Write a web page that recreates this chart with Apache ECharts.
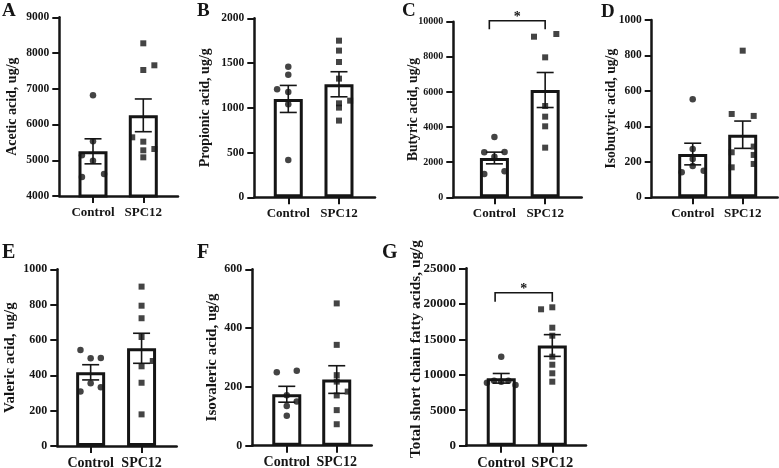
<!DOCTYPE html>
<html><head><meta charset="utf-8">
<script src="https://cdn.jsdelivr.net/npm/echarts@6/dist/echarts.min.js"></script>
<style>html,body{margin:0;padding:0;background:#fff}#c{width:779px;height:468px}</style>
</head><body><div id="c"></div>
<script>
const categories = ['Control', 'SPC12'];

// A – Acetic acid
const aceticControl = [6817, 5530, 5138, 4989, 4532, 4616];
const aceticSPC12   = [8272, 7526, 7657, 5642, 5520, 5278, 5315, 5082];
const aceticMean = [5250, 6257];
const aceticSEM  = [350, 458];
const aceticTicks = [4000, 9000, 1000];

// B – Propionic acid
const propionicControl = [1460, 1370, 1207, 1177, 1039, 417];
const propionicSPC12   = [1750, 1639, 1512, 1326, 1080, 1050, 1002, 857];
const propionicMean = [1099, 1263];
const propionicSEM  = [151, 140];
const propionicTicks = [0, 2000, 500];

// C – Butyric acid
const butyricControl = [3435, 2562, 2580, 2315, 1328, 1480];
const butyricSPC12   = [9146, 9298, 7970, 5199, 4592, 4042, 2827];
const butyricMean = [2239, 6110];
const butyricSEM  = [333, 997];
const butyricTicks = [0, 10000, 2000];
const butyricSig = [10057, 9567];

// D – Isobutyric acid
const isobutyricControl = [553, 272, 216, 176, 141, 150];
const isobutyricSPC12   = [827, 470, 459, 286, 254, 239, 188, 169];
const isobutyricMean = [244, 353];
const isobutyricSEM  = [61, 77];
const isobutyricTicks = [0, 1000, 200];

// E – Valeric acid
const valericControl = [543, 496, 498, 355, 308, 332];
const valericSPC12   = [902, 794, 723, 617, 481, 451, 358, 179];
const valericMean = [417, 553];
const valericSEM  = [43, 85];
const valericTicks = [0, 1000, 200];

// F – Isovaleric acid
const isovalericControl = [250, 255, 172, 150, 135, 102];
const isovalericSPC12   = [484, 343, 240, 218, 184, 171, 121, 73];
const isovalericMean = [175, 225];
const isovalericSEM  = [27, 47];
const isovalericTicks = [0, 600, 200];

// G – Total SCFA
const totalControl = [12542, 8878, 9160, 9019, 9160, 8554];
const totalSPC12   = [19222, 19504, 16629, 15501, 12542, 11415, 10203, 9019];
const totalMean = [9498, 14120];
const totalSEM  = [680, 1530];
const totalTicks = [0, 25000, 5000];
const totalSig = [21561, 20293];

// horizontal spread of individual points (fraction of category step)
const jA = [[0,0,-0.22,0,-0.22,0.22],[0,0,0.22,-0.22,0,0,0.22,0]];
const jB = [[0,0,-0.22,0,0,0],[0,0,0,0,0.22,0,0,0]];
const jC = [[0,-0.2,0.2,0,-0.2,0.2],[-0.22,0.22,0,0,0,0,0]];
const jD = [[0,0,0,0,-0.22,0.22],[0,-0.22,0.22,0.22,-0.22,0.22,0.22,-0.22]];
const jE = [[-0.2,0,0.2,0,-0.2,0.2],[0,0,0,0,0.22,0,0,0]];
const jF = [[-0.2,0.2,0,0.2,0,0],[0,0,0,0,0.22,0,0,0]];
const jG = [[0,-0.28,-0.14,0,0.14,0.28],[-0.22,0,0,0,0,0,0,0]];

const panels = [
  {letter:'A', name:'Acetic acid, ug/g', groups:[aceticControl, aceticSPC12], jit:jA, mean:aceticMean, sem:aceticSEM, ticks:aceticTicks, sig:null},
  {letter:'B', name:'Propionic acid, ug/g', groups:[propionicControl, propionicSPC12], jit:jB, mean:propionicMean, sem:propionicSEM, ticks:propionicTicks, sig:null},
  {letter:'C', name:'Butyric acid, ug/g', groups:[butyricControl, butyricSPC12], jit:jC, mean:butyricMean, sem:butyricSEM, ticks:butyricTicks, sig:butyricSig},
  {letter:'D', name:'Isobutyric acid, ug/g', groups:[isobutyricControl, isobutyricSPC12], jit:jD, mean:isobutyricMean, sem:isobutyricSEM, ticks:isobutyricTicks, sig:null},
  {letter:'E', name:'Valeric acid, ug/g', groups:[valericControl, valericSPC12], jit:jE, mean:valericMean, sem:valericSEM, ticks:valericTicks, sig:null},
  {letter:'F', name:'Isovaleric acid, ug/g', groups:[isovalericControl, isovalericSPC12], jit:jF, mean:isovalericMean, sem:isovalericSEM, ticks:isovalericTicks, sig:null},
  {letter:'G', name:'Total short chain fatty acids, ug/g', groups:[totalControl, totalSPC12], jit:jG, mean:totalMean, sem:totalSEM, ticks:totalTicks, sig:totalSig}
];

// layout (pixels) per panel
const layouts = [
  {left:59.3, top:17.3, width:118.7, height:178.7, xmin:-0.67, xmax:1.69, tick:11.5, cat:13, title:14, gap:40, lx:2, ly:2, lf:19, sigL:0, namePad:0},
  {left:254.3, top:18.3, width:120.7, height:179, xmin:-0.67, xmax:1.71, tick:11.5, cat:13, title:14, gap:42, lx:197, ly:2, lf:19, sigL:0, namePad:0},
  {left:453.3, top:21.7, width:128.4, height:175.6, xmin:-0.81, xmax:1.72, tick:10, cat:13, title:13.6, gap:33, lx:402, ly:2, lf:19, sigL:-0.1, namePad:0},
  {left:651.7, top:20, width:126, height:177.3, xmin:-0.82, xmax:1.70, tick:11.5, cat:13, title:13.7, gap:33, lx:601, ly:3, lf:19, sigL:0, namePad:0},
  {left:57.3, top:269.3, width:119.4, height:176.7, xmin:-0.655, xmax:1.69, tick:12, cat:14, title:15, gap:40, lx:2, ly:243, lf:20, sigL:0, namePad:0},
  {left:252.3, top:269.3, width:119.4, height:176.4, xmin:-0.69, xmax:1.70, tick:12, cat:14, title:15, gap:33, lx:197, ly:243, lf:20, sigL:0, namePad:0},
  {left:466, top:268.3, width:120, height:177.4, xmin:-0.69, xmax:1.66, tick:13, cat:14.5, title:15.3, gap:42, lx:382, ly:243, lf:20, sigL:-0.12, namePad:16}
];

const FONT = 'Liberation Serif';
const INK = '#151515';

const grid = [], xAxis = [], yAxis = [], series = [], graphic = [];

panels.forEach((p, i) => {
  const L = layouts[i];
  grid.push({left:L.left, top:L.top, width:L.width, height:L.height, outerBoundsMode:'none', containLabel:false});
  xAxis.push({
    type:'value', gridIndex:i, min:L.xmin, max:L.xmax,
    axisLine:{show:true, onZero:false, lineStyle:{color:INK, width:2.5}},
    splitLine:{show:false},
    axisTick:{show:true, customValues:[0,1], length:7, lineStyle:{color:INK, width:2}},
    axisLabel:{show:true, customValues:[0,1], formatter:v => categories[Math.round(v)], margin:10,
      fontFamily:FONT, fontWeight:'bold', fontSize:L.cat, color:INK}
  });
  yAxis.push({
    type:'value', gridIndex:i, min:p.ticks[0], max:p.ticks[1], interval:p.ticks[2],
    axisLine:{show:true, onZero:false, lineStyle:{color:INK, width:2.5}},
    splitLine:{show:false},
    axisTick:{show:true, length:7, lineStyle:{color:INK, width:2}},
    axisLabel:{margin:10, formatter:v => String(v), fontFamily:FONT, fontWeight:'bold', fontSize:L.tick, color:INK},
    name:p.name, nameLocation:'middle', nameRotate:90, nameGap:L.gap, nameMoveOverlap:false,
    nameTextStyle:{fontFamily:FONT, fontWeight:'bold', fontSize:L.title, color:INK, padding:[0,0,0,L.namePad]}
  });
  // bars
  series.push({
    type:'bar', xAxisIndex:i, yAxisIndex:i, barWidth:29, z:2,
    data:categories.map((c, k) => [k, p.mean[k]]),
    itemStyle:{color:'#fff', borderColor:INK, borderWidth:3},
    silent:true, animation:false
  });
  // error bars (mean ± SEM)
  series.push({
    type:'custom', xAxisIndex:i, yAxisIndex:i, z:3, animation:false, silent:true,
    data:categories.map((c, k) => [k, p.mean[k], p.sem[k]]),
    renderItem:(params, api) => {
      const x = api.value(0), m = api.value(1), s = api.value(2);
      const t = api.coord([x, m + s]), b = api.coord([x, m - s]);
      const cap = 8.5, st = {stroke:INK, lineWidth:1.6};
      return {type:'group', children:[
        {type:'line', shape:{x1:t[0], y1:t[1], x2:b[0], y2:b[1]}, style:st},
        {type:'line', shape:{x1:t[0]-cap, y1:t[1], x2:t[0]+cap, y2:t[1]}, style:st},
        {type:'line', shape:{x1:b[0]-cap, y1:b[1], x2:b[0]+cap, y2:b[1]}, style:st}
      ]};
    }
  });
  // individual points
  p.groups.forEach((vals, k) => {
    series.push({
      type:'scatter', xAxisIndex:i, yAxisIndex:i, z:4, animation:false, silent:true,
      symbol: k === 0 ? 'circle' : 'rect', symbolSize: k === 0 ? 6.5 : 6,
      itemStyle:{color:INK},
      data: vals.map((v, j) => [k + p.jit[k][j], v])
    });
  });
  // significance bracket
  if (p.sig) {
    series.push({
      type:'custom', xAxisIndex:i, yAxisIndex:i, z:5, animation:false, silent:true, clip:false,
      data:[[L.sigL, 1, p.sig[0], p.sig[1]]],
      renderItem:(params, api) => {
        const a = api.coord([api.value(0), api.value(2)]);
        const b = api.coord([api.value(1), api.value(2)]);
        const al = api.coord([api.value(0), api.value(3)]);
        const bl = api.coord([api.value(1), api.value(3)]);
        return {type:'group', children:[
          {type:'polyline', shape:{points:[[al[0], al[1]], [a[0], a[1]], [b[0], b[1]], [bl[0], bl[1]]]},
           style:{stroke:INK, lineWidth:1.6, fill:null}},
          {type:'text', x:(a[0]+b[0])/2, y:a[1]-3,
           style:{text:'*', fill:INK, font:'bold 14px "' + FONT + '"', align:'center', verticalAlign:'middle'}}
        ]};
      }
    });
  }
  graphic.push({
    type:'text', left:L.lx, top:L.ly,
    style:{text:p.letter, fill:INK, font:'bold ' + L.lf + 'px "' + FONT + '"'}
  });
});

const chart = echarts.init(document.getElementById('c'), null, {renderer:'canvas', width:779, height:468});
chart.setOption({
  backgroundColor:'#fff', animation:false,
  grid, xAxis, yAxis, series, graphic
});
</script>
</body></html>
